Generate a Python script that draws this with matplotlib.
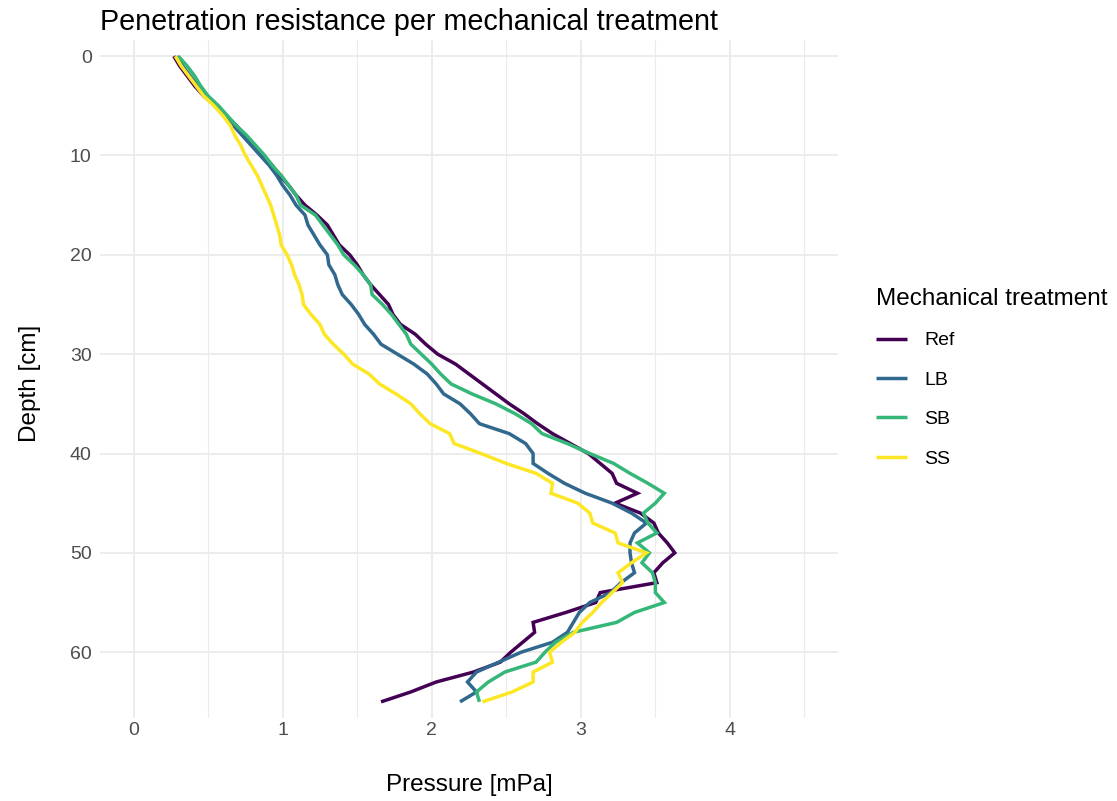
import numpy as np
import matplotlib
matplotlib.use("Agg")
import matplotlib.pyplot as plt

plt.rcParams['font.family'] = ['Liberation Sans', 'DejaVu Sans']

# Depth of each reading [cm]
depth = list(range(0, 66))

# Mean penetration resistance [mPa] per treatment, one value per cm of depth
ref = [0.27, 0.31, 0.36, 0.41, 0.47, 0.55, 0.62, 0.69, 0.75, 0.81,
       0.87, 0.93, 0.98, 1.04, 1.09, 1.15, 1.23, 1.30, 1.34, 1.38,
       1.45, 1.50, 1.54, 1.59, 1.65, 1.71, 1.74, 1.79, 1.89, 1.96,
       2.04, 2.16, 2.25, 2.34, 2.43, 2.52, 2.62, 2.71, 2.81, 2.93,
       3.05, 3.13, 3.21, 3.24, 3.38, 3.23, 3.40, 3.49, 3.52, 3.58,
       3.63, 3.55, 3.49, 3.51, 3.13, 3.10, 2.90, 2.68, 2.69, 2.61,
       2.53, 2.46, 2.28, 2.03, 1.86, 1.66]
lb = [0.29, 0.33, 0.38, 0.43, 0.48, 0.55, 0.61, 0.67, 0.73, 0.79,
      0.85, 0.91, 0.96, 1.00, 1.05, 1.09, 1.15, 1.17, 1.21, 1.25,
      1.30, 1.31, 1.35, 1.37, 1.40, 1.46, 1.51, 1.55, 1.61, 1.66,
      1.77, 1.88, 1.97, 2.03, 2.08, 2.19, 2.26, 2.32, 2.52, 2.63,
      2.68, 2.68, 2.78, 2.89, 3.03, 3.21, 3.34, 3.44, 3.36, 3.33,
      3.33, 3.34, 3.36, 3.27, 3.20, 3.06, 2.99, 2.95, 2.91, 2.81,
      2.60, 2.45, 2.30, 2.24, 2.30, 2.19]
sb = [0.30, 0.36, 0.41, 0.45, 0.50, 0.57, 0.63, 0.69, 0.76, 0.82,
      0.88, 0.93, 0.99, 1.04, 1.09, 1.12, 1.22, 1.27, 1.32, 1.37,
      1.41, 1.48, 1.54, 1.59, 1.60, 1.67, 1.73, 1.78, 1.83, 1.86,
      1.93, 2.00, 2.06, 2.13, 2.27, 2.43, 2.56, 2.67, 2.74, 2.91,
      3.06, 3.22, 3.33, 3.45, 3.56, 3.50, 3.42, 3.45, 3.51, 3.38,
      3.46, 3.41, 3.48, 3.50, 3.50, 3.56, 3.36, 3.24, 2.95, 2.83,
      2.76, 2.70, 2.49, 2.38, 2.30, 2.32]
ss = [0.28, 0.32, 0.37, 0.42, 0.47, 0.54, 0.60, 0.65, 0.68, 0.72,
      0.75, 0.79, 0.83, 0.86, 0.89, 0.92, 0.94, 0.96, 0.98, 0.99,
      1.03, 1.06, 1.08, 1.11, 1.13, 1.14, 1.19, 1.25, 1.28, 1.34,
      1.41, 1.47, 1.58, 1.65, 1.76, 1.86, 1.92, 1.99, 2.12, 2.15,
      2.33, 2.50, 2.70, 2.81, 2.80, 2.98, 3.06, 3.08, 3.23, 3.25,
      3.44, 3.34, 3.25, 3.28, 3.21, 3.14, 3.08, 3.01, 2.96, 2.87,
      2.79, 2.81, 2.68, 2.68, 2.54, 2.34]

treatments = ["Ref", "LB", "SB", "SS"]
series = [ref, lb, sb, ss]
colors = ["#440154", "#31688E", "#35B779", "#FDE725"]

x_ticks = [0, 1, 2, 3, 4]
x_minor = [0.5, 1.5, 2.5, 3.5, 4.5]
y_ticks = [0, 10, 20, 30, 40, 50, 60]

W, H = 1117, 801
fig = plt.figure(figsize=(W / 100, H / 100), dpi=100)
ax = fig.add_axes([100 / W, 1 - 718 / H, 738 / W, 678 / H])

for name, vals, col in zip(treatments, series, colors):
    ax.plot(vals, depth, color=col, lw=2.5, label=name,
            solid_joinstyle='miter', solid_capstyle='butt', zorder=3)

ax.set_xlim(-0.225, 4.725)
ax.set_ylim(66.625, -1.625)

ax.set_xticks(x_ticks)
ax.set_xticks(x_minor, minor=True)
ax.set_yticks(y_ticks)
ax.grid(which='major', color='#EBEBEB', lw=1.3, zorder=0)
ax.grid(which='minor', axis='x', color='#EBEBEB', lw=0.8, zorder=0)
ax.set_axisbelow(True)
for s in ax.spines.values():
    s.set_visible(False)
ax.tick_params(which='both', length=0)
ax.tick_params(axis='x', labelsize=14, labelcolor='#4D4D4D', pad=3)
ax.tick_params(axis='y', labelsize=14, labelcolor='#4D4D4D', pad=6)

ax.set_xlabel("Pressure [mPa]", fontsize=17.5, color='black')
ax.xaxis.set_label_coords(0.5, (718 - 785) / 678)
ax.xaxis.label.set_va('center')
ax.set_ylabel("Depth [cm]", fontsize=17.5, color='black')
ax.yaxis.set_label_coords((30 - 100) / 738, 0.5 + (718 - 383 - 339) / 678)
ax.yaxis.label.set_va('center')

fig.text(100 / W, 1 - 22 / H, "Penetration resistance per mechanical treatment",
         fontsize=20.7, ha='left', va='center')

leg = ax.legend(title="Mechanical treatment", loc='upper left',
                bbox_to_anchor=(876 / W, 1 - 288 / H), bbox_transform=fig.transFigure,
                frameon=False, fontsize=14, title_fontsize=17.5,
                handlelength=1.6, handletextpad=0.9, labelspacing=1.12,
                borderpad=0, borderaxespad=0)
leg._legend_box.align = 'left'

fig.savefig("out.png", dpi=100, facecolor='white')
